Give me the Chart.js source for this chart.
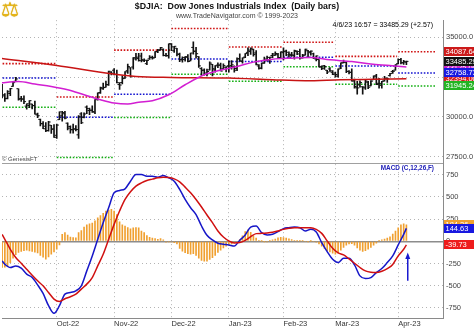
<!DOCTYPE html>
<html>
<head>
<meta charset="utf-8">
<script src="https://cdn.jsdelivr.net/npm/chart.js@4.4.1/dist/chart.umd.min.js"></script>
<style>
  html, body { margin: 0; padding: 0; background: #fff; }
  #wrap { position: relative; width: 474px; height: 331px; overflow: hidden; background: #fff; }
  #c { position: absolute; left: 0; top: 0; }
  .t { position: absolute; font-family: 'Liberation Sans', Arial, sans-serif; white-space: nowrap; line-height: 1; }
</style>
</head>
<body>
<div id="wrap">
  <canvas id="c" width="474" height="331"></canvas>
  <span class="t" style="left:1px;top:-1px;font-size:20px;font-weight:bold;color:#e6b414;text-shadow:0 0 1px #c89a00;font-family:'DejaVu Sans',sans-serif;">⚖</span>
  <span class="t" style="right:41px;top:21px;font-size:7px;color:#000;">4/6/23 16:57 = 33485.29 (+2.57)</span>
  <span class="t" style="left:2px;top:156px;font-size:6px;color:#444;">© GenesisFT</span>
  <span class="t" style="right:40px;top:165px;font-size:6.4px;font-weight:bold;color:#2020b8;">MACD (C,12,26,F)</span>
</div>
<script>
// ================= DATA =================
const monthLabels = ['Oct-22','Nov-22','Dec-22','Jan-23','Feb-23','Mar-23','Apr-23'];
const monthStart  = [21, 42, 63, 84, 104, 123, 146];
const priceTicks  = [27500, 30000, 32500, 35000];
const macdTicks   = [-750, -500, -250, 0, 250, 500, 750];

// Daily OHLC, index 0 = 1 Sep 2022 ... index 149 = 6 Apr 2023
const opens = [
 31510,31790,31390,31170,31470,31920,32240,31770,31160,31110,
 30680,30720,30810,30720,30130,29850,29570,29420,29150,29480,
 29250,28850,29830,30070,30200,29610,29400,29200,29250,28880,
 30190,29980,30620,30400,30420,30300,31150,31530,31770,31860,
 32010,32770,32930,32670,32030,32160,32440,32900,33080,33130,
 33640,33660,33820,33530,33340,33640,33720,33710,34090,34190,
 34240,33860,33830,34570,34150,34310,33920,33580,33720,33740,
 33520,34360,34130,33780,33030,32940,32670,32950,33300,32950,
 33250,33260,33020,33120,33210,33220,33160,33040,33660,33480,
 33750,34050,34100,34220,34010,33200,33070,33380,33540,33560,
 33850,33860,33900,33720,34030,34130,33890,33860,33850,34110,
 34100,33720,33880,34150,34030,33960,33640,33600,33150,33210,
 32930,33010,32800,32750,32560,33070,33390,33430,32860,32800,
 32270,31830,32010,31890,31820,32180,31950,32330,32570,32110,
 31980,32260,32400,32590,32840,32940,33340,33590,33390,33430];
const highs = [
 31700,32050,31460,31650,31800,32230,32480,31770,31290,31330,
 30830,31020,30810,31000,30250,29860,29710,29650,29730,29480,
 29520,29560,30320,30360,30350,29630,29440,29560,29460,30090,
 30270,30260,30690,30560,30700,31090,31520,31870,32130,32250,
 32880,32850,33030,32940,32160,32580,32850,33320,33090,33720,
 33990,33990,34000,33650,33570,33850,33820,34100,34240,34360,
 34270,33990,34590,34600,34430,34310,34000,33770,33790,33910,
 34010,34710,34370,33780,33090,33020,33000,33460,33300,33220,
 33390,33380,33330,33150,33520,33540,33200,33700,33960,33710,
 33980,34340,34340,34260,34160,33280,33380,33750,33810,33750,
 33990,34080,33990,34090,34330,34200,34080,34050,34200,34140,
 34250,33930,34250,34170,34140,34000,33830,33600,33200,33240,
 32930,33090,32900,32820,33010,33400,33570,33430,32900,33020,
 32380,32240,32270,31910,32300,32240,32280,32580,32680,32420,
 32240,32550,32450,32730,32930,33280,33650,33680,33550,33500];
const lows = [
 31160,31200,30980,31130,31330,31910,32240,31060,30970,30840,
 30490,30580,30500,30180,29950,29440,29260,29080,29110,28970,
 28720,28660,29830,29740,29870,29180,28990,28990,29130,28660,
 29580,29940,30210,30150,30280,30210,31050,31480,31720,31860,
 31970,32640,32630,32140,31730,32070,32410,32730,32510,32990,
 33560,33500,33450,33470,33280,33600,33620,33710,34030,34180,
 33820,33800,33680,34160,34040,33830,33460,33440,33500,33450,
 33510,33940,33680,33110,32610,32620,32580,32940,32570,32810,
 33090,32880,33020,32820,32810,32990,32810,32900,33500,33370,
 33720,33850,33920,33810,33270,32990,33010,33350,33490,33350,
 33720,33860,33670,33700,33580,33850,33730,33790,33620,33900,
 33630,33690,33870,33730,33880,33650,33520,33130,32960,32980,
 32720,32850,32650,32500,32500,33020,33390,32780,32700,32250,
 31800,31430,31860,31430,31720,31780,31940,32330,32020,31800,
 31810,32250,32170,32560,32730,32930,33340,33320,33300,33280];
const closes = [
 31656,31318,31145,31581,31775,32152,32381,31105,31135,30961,
 30822,31020,30706,30184,30077,29590,29260,29135,29684,29226,
 28726,29491,30316,30274,29927,29297,29203,29240,29211,30039,
 29635,30186,30524,30424,30334,31083,31500,31837,31839,32034,
 32861,32733,32653,32148,32001,32403,32827,33161,32514,33716,
 33748,33537,33593,33554,33547,33746,33700,34098,34195,34347,
 33850,33853,34590,34395,34430,33947,33597,33598,33781,33477,
 34006,34108,33966,33203,32920,32757,32850,33377,33027,33204,
 33242,32876,33221,33147,33136,33270,32930,33631,33518,33704,
 33974,34190,34303,33911,33297,33045,33375,33630,33734,33744,
 33950,33978,33717,34086,34093,34054,33926,33891,34156,33949,
 33699,33869,34246,34089,34128,33697,33827,33130,33045,33154,
 32817,32889,32657,32662,33004,33391,33431,32856,32798,32254,
 31910,31820,32155,31875,32247,31862,32245,32561,32031,32106,
 32238,32433,32394,32718,32860,33274,33601,33403,33483,33485.29];

// Moving averages (at sample days)
const ma50Idx = [0,7,13,19,25,31,37,42,47,51,56,62,68,75,80,87,93,100,107,114,121,129,136,143,149];
const ma50    = [32125,32225,32063,31913,31706,31394,31081,30875,30813,30925,31019,31394,32019,32644,32894,33163,33438,33625,33688,33725,33581,33475,33313,33225,33125];
const ma200Idx = [0,21,41,50,63,84,100,112,125,137,149];
const ma200    = [33688,33225,32706,32538,32475,32438,32331,32269,32331,32363,32394];

// Monthly pivot levels (R1 / pivot / S1)
const pivotStart = [0, 21, 42, 63, 84, 104, 123, 146];
const pivotEnd   = [20.6, 41.6, 62.6, 83.6, 103.6, 122.6, 145.6, 159.5];
const pivotR1 = [33345, 31249, 34193, 35544, 34382, 34681, 33801, 34087.64];
const pivotPP = [32446, 29982, 31426, 33635, 33477, 33747, 33191, 32758.73];
const pivotS1 = [30612, 27460, 29967, 32681, 32243, 33151, 32046, 31945.24];

// MACD (12,26) and signal, sampled days
const macdIdx = [1,2,4,6,8,10,12,14,16,18,20,22,24,26,28,30,32,34,36,38,40,42,44,46,48,50,52,54,56,58,
  60,62,64,66,68,70,72,74,76,78,80,82,84,86,88,90,92,94,96,98,100,102,104,106,108,110,112,114,116,118,
  120,122,124,126,128,130,132,134,136,138,140,142,144,146,148,149];
const macdLine = [-221,-258,-295,-277,-303,-370,-408,-490,-587,-725,
  -810,-725,-594,-576,-557,-501,-333,-165,22,209,
  377,545,572,590,676,751,751,732,732,721,
  740,714,676,583,471,377,300,172,67,15,
  -23,-34,-41,-53,11,71,160,172,97,71,
  78,108,142,153,160,153,116,134,104,-15,
  -116,-202,-239,-191,-191,-266,-389,-419,-408,-352,
  -307,-239,-165,-41,78,144.63];
const signalLine = [78,22,-90,-183,-247,-314,-381,-445,-501,-576,
  -650,-677,-647,-624,-594,-538,-482,-408,-277,-146,
  22,190,340,471,557,620,657,684,699,714,
  721,717,702,669,609,545,470,385,295,209,
  116,48,4,-19,-15,11,52,86,89,93,
  101,116,134,146,153,153,153,153,134,89,
  4,-79,-131,-153,-198,-247,-295,-333,-348,-351,
  -337,-307,-260,-164,-90,-39.73];
// MACD histogram, one value per day
const histogram = [
 -300,-295,-290,-280,-240,-190,-150,-125,-115,-105,
 -100,-108,-115,-122,-130,-160,-180,-200,-175,-145,
 -120,-90,-40,78,97,71,48,41,40,97,
 120,160,185,195,205,230,265,290,315,340,
 350,358,340,300,220,185,172,153,140,150,
 153,150,116,97,65,45,35,30,22,30,
 15,-10,-5,-8,-15,-30,-80,-110,-127,-140,
 -146,-140,-160,-190,-215,-225,-225,-205,-185,-160,
 -125,-100,-75,-55,-40,-30,-15,-8,20,60,
 110,130,100,60,35,12,2,-3,-5,5,
 15,25,38,45,42,35,28,18,12,5,
 5,3,0,-3,2,0,-10,-30,-55,-80,
 -105,-120,-135,-145,-130,-100,-70,-45,-30,-28,
 -45,-75,-100,-115,-105,-90,-70,-45,-20,5,
 15,25,35,50,80,115,150,185,195,184.36];

// Annotation arrow in the MACD pane: [day index, from value, to value]
const arrowMark = [149.5, -445, -127];

// ================= CHART =================
const FONT = "'Liberation Sans', Arial, sans-serif";
Chart.defaults.font.family = FONT;
const N = closes.length;
const idx = closes.map((_, i) => i);
const xy = (xs, ys) => xs.map((x, k) => ({ x: x, y: ys[k] }));
function segs(vals) {
  const out = [];
  vals.forEach((v, k) => { out.push({x: pivotStart[k], y: v}, {x: pivotEnd[k], y: v}, {x: pivotEnd[k], y: null}); });
  return out;
}

const boxes = [
  { axis: 'yP', value: ma50[ma50.length - 1], color: '#c81ec8' },
  { axis: 'yP', value: ma200[ma200.length - 1], color: '#d41818' },
  { axis: 'yP', value: pivotR1[pivotR1.length - 1], color: '#cc1a1a' },
  { axis: 'yP', value: pivotPP[pivotPP.length - 1], color: '#1818e0' },
  { axis: 'yP', value: pivotS1[pivotS1.length - 1], color: '#22b422' },
  { axis: 'yP', value: closes[N - 1], color: '#111111' },
  { axis: 'yM', value: histogram[N - 1], color: '#f2a12e' },
  { axis: 'yM', value: macdLine[macdLine.length - 1], color: '#1818e0' },
  { axis: 'yM', value: signalLine[signalLine.length - 1], color: '#ee1c1c' }
];

const overlay = {
  id: 'overlay',
  afterDatasetsDraw(chart) {
    const { ctx, chartArea, scales } = chart;
    const xS = scales.x, yM = scales.yM;
    ctx.save();
    // pane separator
    ctx.strokeStyle = '#a0a0a0'; ctx.lineWidth = 1;
    const sy = Math.round(yM.top) + 0.5;
    ctx.beginPath(); ctx.moveTo(chartArea.left, sy); ctx.lineTo(chartArea.right, sy); ctx.stroke();
    // arrow
    const ax = xS.getPixelForValue(arrowMark[0]);
    const a0 = yM.getPixelForValue(arrowMark[1]);
    const a1 = yM.getPixelForValue(arrowMark[2]);
    ctx.strokeStyle = '#1a1ad0'; ctx.fillStyle = '#1a1ad0'; ctx.lineWidth = 1.5;
    ctx.beginPath(); ctx.moveTo(ax, a0); ctx.lineTo(ax, a1 + 5); ctx.stroke();
    ctx.beginPath(); ctx.moveTo(ax, a1); ctx.lineTo(ax - 2.5, a1 + 6.5); ctx.lineTo(ax + 2.5, a1 + 6.5); ctx.closePath(); ctx.fill();
    // value boxes on the right axis
    ctx.font = '7.5px ' + FONT;
    ctx.textBaseline = 'middle'; ctx.textAlign = 'left';
    for (const b of boxes) {
      const y = scales[b.axis].getPixelForValue(b.value);
      ctx.fillStyle = b.color;
      ctx.fillRect(chartArea.right + 1, Math.round(y - 4.5), 32, 9);
      ctx.fillStyle = '#ffffff';
      ctx.fillText(b.value.toFixed(2), chartArea.right + 2.5, Math.round(y - 4.5) + 5);
    }
    ctx.restore();
  }
};

const isZero = (c) => !!(c.tick && c.tick.value === 0);

new Chart(document.getElementById('c'), {
  type: 'line',
  data: {
    datasets: [
      // price pane
      { type: 'line', label: 'MA 50', data: xy(ma50Idx, ma50), yAxisID: 'yP', borderColor: '#d21ed2', borderWidth: 1.5, pointRadius: 0, cubicInterpolationMode: 'monotone', order: 1 },
      { type: 'line', label: 'MA 200', data: xy(ma200Idx, ma200), yAxisID: 'yP', borderColor: '#c81414', borderWidth: 1.5, pointRadius: 0, cubicInterpolationMode: 'monotone', order: 1 },
      { type: 'bar', label: 'High-Low', data: idx.map(i => ({ x: i, y: [lows[i], highs[i]] })), yAxisID: 'yP', backgroundColor: '#111', barThickness: 1, grouped: false, borderWidth: 0, order: 3 },
      { type: 'line', label: 'Open', data: idx.map(i => ({ x: i - 0.4, y: opens[i] })), yAxisID: 'yP', showLine: false, pointStyle: 'line', pointRadius: 1, pointBorderWidth: 1, pointBorderColor: '#111', pointHoverRadius: 0, order: 3 },
      { type: 'line', label: 'Close', data: idx.map(i => ({ x: i + 0.4, y: closes[i] })), yAxisID: 'yP', showLine: false, pointStyle: 'line', pointRadius: 1, pointBorderWidth: 1, pointBorderColor: '#111', pointHoverRadius: 0, order: 3 },
      { type: 'line', label: 'R1', data: segs(pivotR1), yAxisID: 'yP', borderColor: '#d01414', borderWidth: 1.6, borderDash: [1.6, 1.6], pointRadius: 0, spanGaps: false, order: 5 },
      { type: 'line', label: 'Pivot', data: segs(pivotPP), yAxisID: 'yP', borderColor: '#1414d0', borderWidth: 1.6, borderDash: [1.6, 1.6], pointRadius: 0, spanGaps: false, order: 5 },
      { type: 'line', label: 'S1', data: segs(pivotS1), yAxisID: 'yP', borderColor: '#14b014', borderWidth: 1.6, borderDash: [1.6, 1.6], pointRadius: 0, spanGaps: false, order: 5 },
      // MACD pane
      { type: 'bar', label: 'Histogram', data: idx.map(i => ({ x: i, y: histogram[i] })), yAxisID: 'yM', backgroundColor: '#f0a030', barThickness: 1, grouped: false, borderWidth: 0, order: 4 },
      { type: 'line', label: 'MACD', data: xy(macdIdx, macdLine), yAxisID: 'yM', borderColor: '#1616c8', borderWidth: 1.5, pointRadius: 0, cubicInterpolationMode: 'monotone', order: 2 },
      { type: 'line', label: 'Signal', data: xy(macdIdx, signalLine), yAxisID: 'yM', borderColor: '#d01010', borderWidth: 1.5, pointRadius: 0, cubicInterpolationMode: 'monotone', order: 1 }
    ]
  },
  options: {
    responsive: false,
    animation: false,
    events: [],
    devicePixelRatio: 1,
    layout: { padding: { left: 0, right: 0, top: 0, bottom: 2 } },
    plugins: {
      legend: { display: false },
      tooltip: { enabled: false },
      title: { display: true, text: '$DJIA:  Dow Jones Industrials Index  (Daily bars)', color: '#111',
               font: { size: 8.8, weight: 'bold', lineHeight: 1.2 }, padding: { top: 1.2, bottom: 0 } },
      subtitle: { display: true, text: 'www.TradeNavigator.com © 1999-2023', color: '#444',
               font: { size: 7, lineHeight: 1.2 }, padding: { top: 0, bottom: 0 } }
    },
    scales: {
      x: {
        type: 'linear', min: 0.96, max: 162.4, offset: false,
        grid: { color: '#b4b4b4', lineWidth: 1, drawTicks: false, offset: false },
        border: { display: true, color: '#8a8a8a', width: 1, dash: [1, 3] },
        ticks: { autoSkip: false, maxRotation: 0, align: 'start', padding: 1, color: '#333', font: { size: 7.5 },
                 callback: (v, k) => monthLabels[k] },
        afterBuildTicks: (s) => { s.ticks = monthStart.map(v => ({ value: v })); }
      },
      yP: {
        type: 'linear', position: 'right', stack: 'panes', stackWeight: 142.8,
        min: 27144, max: 36069,
        grid: { color: '#b4b4b4', lineWidth: 1, drawTicks: false },
        border: { display: true, color: '#8a8a8a', width: 1, dash: [1, 3] },
        ticks: { autoSkip: false, padding: 3, color: '#444', font: { size: 7.5 },
                 callback: (v) => Number(v).toFixed(1) },
        afterBuildTicks: (s) => { s.ticks = priceTicks.map(v => ({ value: v })); },
        afterFit: (s) => { s.width = 31; }
      },
      yM: {
        type: 'linear', position: 'right', stack: 'panes', stackWeight: 156,
        min: -863, max: 886,
        grid: { color: (c) => isZero(c) ? '#8c8c8c' : '#b4b4b4',
                lineWidth: (c) => isZero(c) ? 1.5 : 1, drawTicks: false },
        border: { display: true, color: '#8a8a8a', width: 1, dash: (c) => isZero(c) ? [] : [1, 3] },
        ticks: { autoSkip: false, padding: 3, color: '#444', font: { size: 7.5 },
                 callback: (v) => String(v) },
        afterBuildTicks: (s) => { s.ticks = macdTicks.map(v => ({ value: v })); },
        afterFit: (s) => { s.width = 31; }
      }
    }
  },
  plugins: [overlay]
});
</script>
</body>
</html>
